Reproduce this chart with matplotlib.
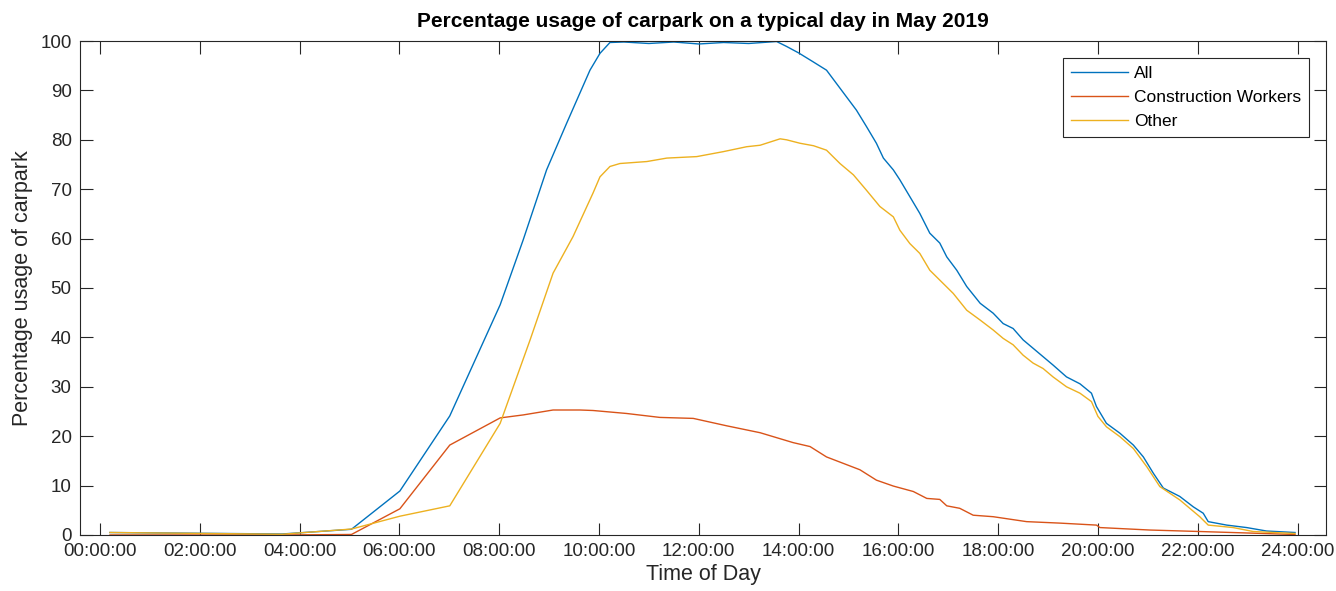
import matplotlib
matplotlib.use('Agg')
import matplotlib.pyplot as plt

plt.rcParams['font.family'] = ['Liberation Sans', 'DejaVu Sans']

# hours of day and percentage usage
all_hours = [0.2, 3.65, 5.04, 6.01, 7.01, 8.02, 8.48, 8.95, 9.35, 9.82, 10.02, 10.22,
             10.5, 11.0, 11.5, 12.0, 12.5, 13.0, 13.56, 13.76, 14.0, 14.29, 14.56, 14.76,
             14.96, 15.16, 15.36, 15.56, 15.7, 15.9, 16.03, 16.23, 16.43, 16.63, 16.83,
             16.97, 17.17, 17.37, 17.64, 17.9, 18.1, 18.3, 18.5, 18.7, 18.9, 19.1, 19.37,
             19.64, 19.87, 19.97, 20.17, 20.44, 20.71, 20.91, 21.11, 21.31, 21.64, 21.91,
             22.11, 22.21, 22.58, 22.98, 23.38, 23.95]
all_vals = [0.5, 0.2, 1.15, 8.9, 24.1, 46.6, 59.7, 73.9, 83.3, 94.1, 97.5, 99.7,
            99.8, 99.5, 99.8, 99.4, 99.7, 99.5, 99.9, 98.9, 97.6, 95.8, 94.1, 91.4,
            88.7, 86.0, 82.7, 79.3, 76.3, 73.9, 71.9, 68.5, 65.1, 61.1, 59.1,
            56.3, 53.6, 50.3, 46.9, 44.9, 42.8, 41.8, 39.5, 37.8, 36.1, 34.4, 32.0,
            30.6, 28.7, 26.0, 22.6, 20.6, 18.2, 15.8, 12.5, 9.5, 7.8, 5.7,
            4.4, 2.7, 2.0, 1.5, 0.8, 0.5]

cw_hours = [0.2, 3.65, 5.04, 6.01, 7.01, 8.02, 8.48, 9.08, 9.62, 9.88, 10.55, 11.22,
            11.89, 12.56, 13.23, 13.89, 14.23, 14.56, 15.23, 15.56, 15.9, 16.3, 16.57,
            16.83, 16.97, 17.23, 17.5, 17.9, 18.57, 19.24, 19.97, 20.04, 21.04, 22.04,
            23.0, 23.95]
cw_vals = [0.0, 0.0, 0.1, 5.3, 18.2, 23.7, 24.3, 25.3, 25.3, 25.2, 24.6, 23.8,
           23.6, 22.1, 20.7, 18.7, 17.9, 15.8, 13.2, 11.1, 9.9, 8.8, 7.4,
           7.2, 5.9, 5.4, 4.0, 3.7, 2.7, 2.4, 2.0, 1.5, 1.0, 0.7,
           0.4, 0.1]

other_hours = [0.2, 3.65, 5.04, 6.01, 7.01, 8.02, 8.62, 9.08, 9.48, 9.88, 10.02, 10.22,
               10.42, 10.96, 11.36, 11.96, 12.49, 12.96, 13.23, 13.63, 13.76, 14.03, 14.3,
               14.56, 14.83, 15.1, 15.36, 15.63, 15.9, 16.03, 16.23, 16.43, 16.63, 16.83,
               17.1, 17.37, 17.64, 17.9, 18.1, 18.3, 18.5, 18.7, 18.9, 19.1, 19.37, 19.64,
               19.87, 20.0, 20.17, 20.44, 20.71, 20.98, 21.24, 21.64, 22.04, 22.21, 22.71,
               23.11, 23.95]
other_vals = [0.5, 0.15, 1.2, 3.8, 5.9, 22.6, 39.5, 53.0, 60.4, 69.2, 72.5, 74.6,
              75.2, 75.6, 76.3, 76.6, 77.6, 78.6, 78.9, 80.2, 80.0, 79.3, 78.8,
              77.9, 75.2, 72.9, 69.8, 66.5, 64.4, 61.7, 59.0, 57.0, 53.6, 51.6,
              48.9, 45.5, 43.5, 41.5, 39.8, 38.5, 36.4, 34.8, 33.7, 32.0, 30.0, 28.7,
              27.0, 24.0, 21.9, 19.9, 17.5, 13.8, 9.8, 7.1, 3.7, 2.0, 1.5,
              0.7, 0.3]

tick_hours = list(range(0, 25, 2))
tick_labels = ['%02d:00:00' % h for h in tick_hours]

fig = plt.figure(figsize=(13.36, 5.91), dpi=100)
ax = fig.add_axes([0.0599, 0.0948, 0.9326, 0.8358])

ax.plot(all_hours, all_vals, color='#0072BD', lw=1.0, label='All')
ax.plot(cw_hours, cw_vals, color='#D95319', lw=1.0, label='Construction Workers')
ax.plot(other_hours, other_vals, color='#EDB120', lw=1.0, label='Other')

ax.set_xlim(-0.4, 24.57)
ax.set_ylim(0, 100)
ax.set_xticks(tick_hours)
ax.set_xticklabels(tick_labels)
ax.set_yticks(range(0, 101, 10))

dark = '#262626'
for s in ax.spines.values():
    s.set_color(dark)
    s.set_linewidth(0.8)
ax.tick_params(direction='in', length=9, width=0.8, color=dark, labelcolor=dark,
               labelsize=13.5, top=True, right=True)
ax.tick_params(axis='x', pad=6)
ax.tick_params(axis='y', pad=6)

ax.set_title('Percentage usage of carpark on a typical day in May 2019',
             fontsize=15, fontweight='bold', pad=10)
ax.set_xlabel('Time of Day', fontsize=15.5, color=dark, labelpad=3)
ax.set_ylabel('Percentage usage of carpark', fontsize=15.5, color=dark, labelpad=5)

leg = ax.legend(loc='upper right', fontsize=12.5, handlelength=3.3, fancybox=False,
                framealpha=1, borderaxespad=1.0, labelspacing=0.5, handletextpad=0.3,
                borderpad=0.45)
leg.get_frame().set_edgecolor(dark)
leg.get_frame().set_linewidth(0.8)

fig.savefig('out.png', dpi=100)
